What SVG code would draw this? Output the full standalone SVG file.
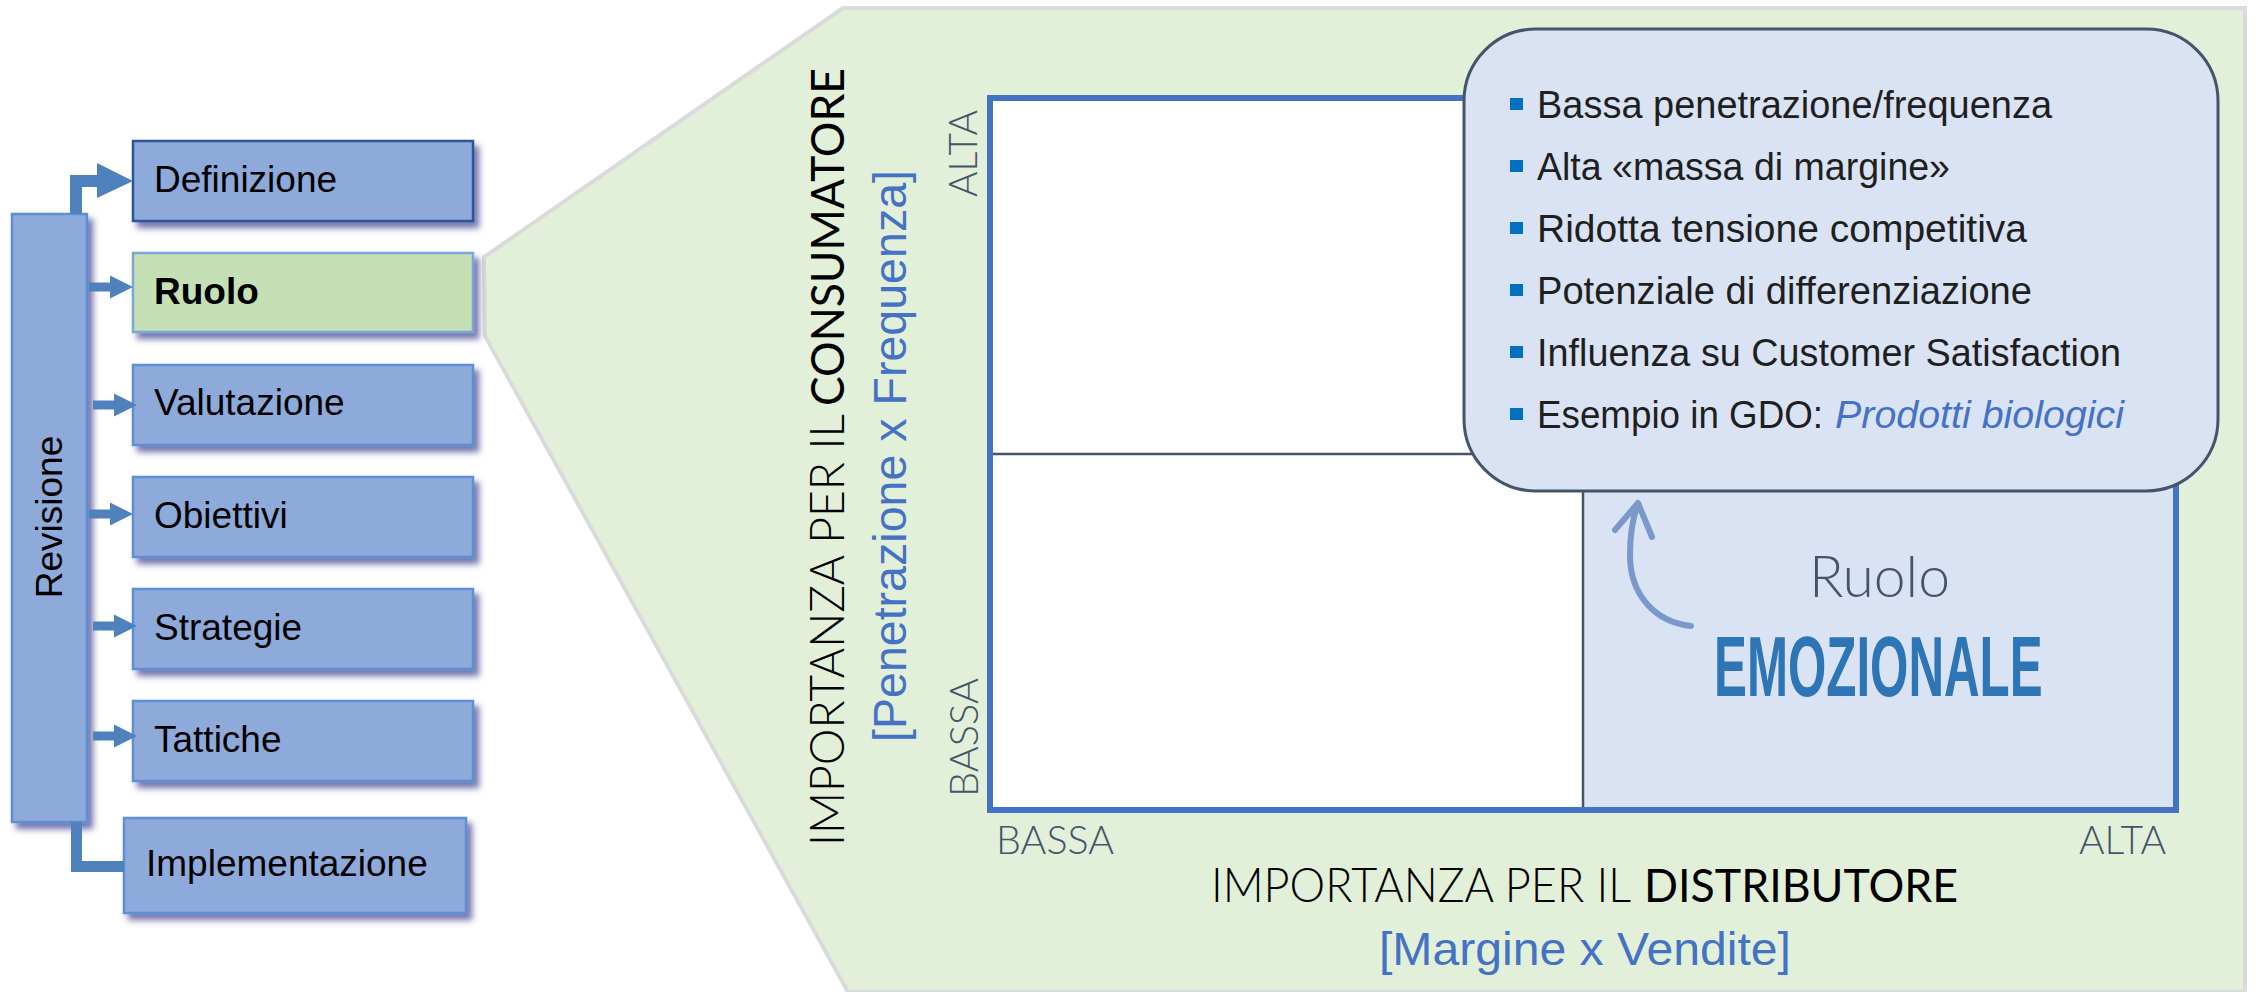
<svg xmlns="http://www.w3.org/2000/svg" width="2256" height="992" viewBox="0 0 2256 992">
<defs>
<filter id="sh" x="-20%" y="-20%" width="140%" height="150%">
<feDropShadow dx="5" dy="6" stdDeviation="3" flood-color="#3C3A8C" flood-opacity="0.7"/>
</filter>
<style>
.box{fill:#8EAADB;stroke:#5B8FD6;stroke-width:2.5;filter:url(#sh)}
.lbl{font-family:"Liberation Sans",Arial,sans-serif;font-size:37px;fill:#000}
.conn{fill:#4F81BD}
.ax{font-family:Lato,"Liberation Sans",sans-serif;font-weight:300;font-size:40px;fill:#44546A}
.ttl{font-family:Lato,"Liberation Sans",sans-serif;font-size:47px;fill:#000}
.blu{font-family:"Liberation Sans",Arial,sans-serif;font-size:47px;fill:#4472C4}
.bul{font-family:"Liberation Sans",Arial,sans-serif;font-size:38px;fill:#1F1F1F}
.sq{fill:#0070C0}
</style>
</defs>
<rect width="2256" height="992" fill="#FFFFFF"/>

<g id="zoom-panel">
<polygon points="843,8 2245,8 2245,992 848,992 485,336 484,257" fill="#E2EFD9" stroke="#DADADA" stroke-width="4"/>
</g>

<g id="chart">
<rect x="990" y="98" width="1186" height="712" fill="#FFFFFF"/>
<rect x="1583" y="454" width="593" height="356" fill="#DAE3F3"/>
<line x1="990" y1="454" x2="2176" y2="454" stroke="#44546A" stroke-width="2.5"/>
<line x1="1583" y1="454" x2="1583" y2="810" stroke="#44546A" stroke-width="2.5"/>
<rect x="990" y="98" width="1186" height="712" fill="none" stroke="#4472C4" stroke-width="6"/>
<text class="ax" transform="translate(977,197) rotate(-90)" textLength="87" lengthAdjust="spacingAndGlyphs">ALTA</text>
<text class="ax" transform="translate(978,797) rotate(-90)" textLength="119" lengthAdjust="spacingAndGlyphs">BASSA</text>
<text class="ax" x="996" y="854" textLength="118" lengthAdjust="spacingAndGlyphs">BASSA</text>
<text class="ax" x="2079" y="854" textLength="87" lengthAdjust="spacingAndGlyphs">ALTA</text>
<text class="ttl" font-weight="300" transform="translate(844,846) rotate(-90)" textLength="432" lengthAdjust="spacingAndGlyphs">IMPORTANZA PER IL</text>
<text class="ttl" transform="translate(844,406) rotate(-90)" textLength="338" lengthAdjust="spacingAndGlyphs">CONSUMATORE</text>
<text class="blu" transform="translate(906,456) rotate(-90)" text-anchor="middle" textLength="572" lengthAdjust="spacingAndGlyphs">[Penetrazione x Frequenza]</text>
<text class="ttl" font-weight="300" font-size="46" x="1211" y="902" textLength="420" lengthAdjust="spacingAndGlyphs">IMPORTANZA PER IL</text>
<text class="ttl" font-size="46" x="1644" y="902" textLength="314" lengthAdjust="spacingAndGlyphs">DISTRIBUTORE</text>
<text class="blu" x="1379" y="965" textLength="412" lengthAdjust="spacingAndGlyphs">[Margine x Vendite]</text>
</g>

<g id="callout">
<rect x="1464" y="29" width="754" height="462" rx="72" ry="72" fill="#DAE3F3" stroke="#44546A" stroke-width="3"/>
<rect class="sq" x="1510" y="98" width="13" height="12"/>
<text class="bul" x="1537" y="118" textLength="515" lengthAdjust="spacingAndGlyphs">Bassa penetrazione/frequenza</text>
<rect class="sq" x="1510" y="160" width="13" height="12"/>
<text class="bul" x="1537" y="180" textLength="413" lengthAdjust="spacingAndGlyphs">Alta «massa di margine»</text>
<rect class="sq" x="1510" y="222" width="13" height="12"/>
<text class="bul" x="1537" y="242" textLength="490" lengthAdjust="spacingAndGlyphs">Ridotta tensione competitiva</text>
<rect class="sq" x="1510" y="284" width="13" height="12"/>
<text class="bul" x="1537" y="304" textLength="495" lengthAdjust="spacingAndGlyphs">Potenziale di differenziazione</text>
<rect class="sq" x="1510" y="346" width="13" height="12"/>
<text class="bul" x="1537" y="366" textLength="584" lengthAdjust="spacingAndGlyphs">Influenza su Customer Satisfaction</text>
<rect class="sq" x="1510" y="408" width="13" height="12"/>
<text class="bul" x="1537" y="428" textLength="286" lengthAdjust="spacingAndGlyphs">Esempio in GDO:</text>
<text class="bul" x="1835" y="428" font-style="italic" style="fill:#4472C4" textLength="289" lengthAdjust="spacingAndGlyphs">Prodotti biologici</text>
</g>

<g id="role-label">
<text x="1809" y="597" font-family="Lato,'Liberation Sans',sans-serif" font-weight="300" font-size="58" fill="#44546A" textLength="141" lengthAdjust="spacingAndGlyphs">Ruolo</text>
<text transform="translate(1714,696) scale(0.58,1)" x="0" y="0" font-family="'Liberation Sans',Arial,sans-serif" font-weight="bold" font-size="85" fill="#2E75B6">EMOZIONALE</text>
<path d="M1691,626 C1655,622 1630,595 1630,555 C1630,532 1633,517 1638,504 M1615,530 L1638,503 L1652,537" fill="none" stroke="#6F8FC8" stroke-opacity="0.9" stroke-width="6" stroke-linecap="round" stroke-linejoin="round"/>
</g>

<g id="node-revisione">
<rect class="box" x="12" y="214" width="75" height="608"/>
<text class="lbl" transform="translate(62,517) rotate(-90)" text-anchor="middle">Revisione</text>
</g>
<g id="node-definizione">
<rect class="box" x="133" y="141" width="340" height="80" style="stroke:#2F5597"/>
<text class="lbl" x="154" y="192">Definizione</text>
</g>
<g id="node-ruolo">
<rect class="box" x="133" y="253" width="340" height="79" style="fill:#C5E0B4;stroke:#7AA6DA"/>
<text class="lbl" x="154" y="304" font-weight="bold">Ruolo</text>
</g>
<g id="node-valutazione">
<rect class="box" x="133" y="365" width="340" height="80"/>
<text class="lbl" x="154" y="415">Valutazione</text>
</g>
<g id="node-obiettivi">
<rect class="box" x="133" y="477" width="340" height="80"/>
<text class="lbl" x="154" y="528">Obiettivi</text>
</g>
<g id="node-strategie">
<rect class="box" x="133" y="589" width="340" height="80"/>
<text class="lbl" x="154" y="640">Strategie</text>
</g>
<g id="node-tattiche">
<rect class="box" x="133" y="701" width="340" height="80"/>
<text class="lbl" x="154" y="752">Tattiche</text>
</g>
<g id="node-implementazione">
<rect class="box" x="124" y="818" width="342" height="95"/>
<text class="lbl" x="146" y="876">Implementazione</text>
</g>

<g id="connectors">
<path class="conn" d="M70,214 V175 H97 V163 L133,181 L97,198 V187 H82 V214 Z"/>
<path class="conn" d="M89,282.5 H110 V275.5 L133,287 L110,298.5 V291.5 H89 Z"/>
<path class="conn" d="M93,400.5 H114 V393.5 L137,405 L114,416.5 V409.5 H93 Z"/>
<path class="conn" d="M89,509.5 H110 V502.5 L133,514 L110,525.5 V518.5 H89 Z"/>
<path class="conn" d="M93,621.5 H114 V614.5 L137,626 L114,637.5 V630.5 H93 Z"/>
<path class="conn" d="M93,731.5 H114 V724.5 L137,736 L114,747.5 V740.5 H93 Z"/>
<path class="conn" d="M71,822 V872 H124 V861 H82 V822 Z"/>
</g>
</svg>
